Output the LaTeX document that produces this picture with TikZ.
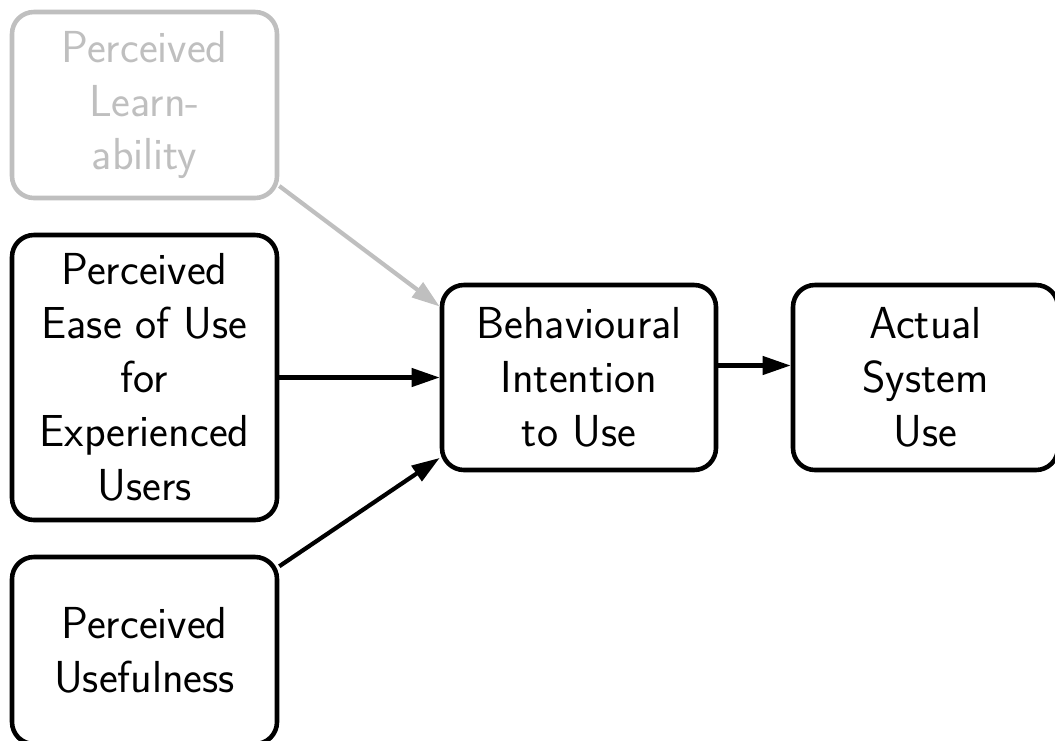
\documentclass[tikz,border=0pt]{standalone}
\usetikzlibrary{arrows.meta,positioning}
\colorlet{faded}{black!25}
\tikzset{
    tam diagram/.style = {>={Triangle[length=5.6mm, width=3.6mm]}},
    line/.style        = {line width=2.4pt},
    construct/.style   = {draw, line width=2.6pt, rounded corners=4.4mm,
                          align=center, font=\sffamily\fontsize{25.5}{30.7}\selectfont,
                          minimum width=5.3cm, minimum height=3.72cm},
    tall construct/.style = {construct, minimum height=5.7cm},
    faded construct/.style = {construct, draw=faded, text=faded}
}
\def\leftcol{2.89}
\def\midrow{-7.55}

\begin{document}
\begin{tikzpicture}[tam diagram]
\useasboundingbox (0,0) rectangle (21.1,-14.8);
\clip (0,0) rectangle (21.1,-14.8);

% External variables on the left.
\node[faded construct] (learn) at (\leftcol,-2.10)
    {Perceived\\Learn-\\ability};
\node[tall construct] (ease) at (\leftcol,\midrow)
    {Perceived\\Ease of Use\\for\\Experienced\\Users};
\node[construct, minimum height=3.74cm] (useful) at (\leftcol,-13.01)
    {Perceived\\Usefulness};

% Intention and actual use.
\node[construct, minimum width=5.48cm, minimum height=3.7cm] (intent)
    at (11.58,\midrow) {Behavioural\\Intention\\to Use};
\node[construct, minimum height=3.7cm] (use)
    at (18.51,\midrow) {Actual\\System\\Use};

% Paths into the intention and on to use.
\draw[->, line, faded] (learn.-31) -- (intent.153);
\draw[->, line] (ease.east) -- (intent.west);
\draw[->, line] (useful.32) -- (intent.-150.5);
\draw[->, line] ([yshift=2.4mm]intent.east) -- ([yshift=2.4mm]use.west);

\end{tikzpicture}
\end{document}
